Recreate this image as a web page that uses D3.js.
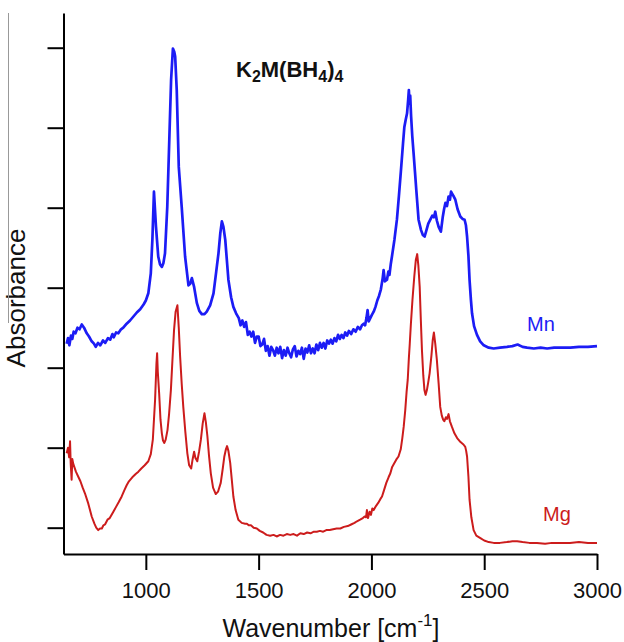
<!DOCTYPE html>
<html>
<head>
<meta charset="utf-8">
<script src="https://cdn.jsdelivr.net/npm/d3@7"></script>
<style>
  html, body { margin: 0; padding: 0; background: #fff; }
  svg { display: block; font-family: "Liberation Sans", Arial, sans-serif; }
</style>
</head>
<body>
<svg id="chart" width="624" height="642"></svg>
<script>
// IR spectra of K2M(BH4)4, M = Mn (upper trace) and Mg (lower trace)

const xTicks = [1000, 1500, 2000, 2500, 3000];
const yTicks = [1, 2, 3, 4, 5, 6, 7];

const mnWavenumber = [
  649, 655, 661, 668, 674, 680, 688, 697, 706, 716, 726, 738, 748, 760, 770, 778, 788, 798, 810, 820,
  832, 842, 852, 858, 868, 878, 890, 900, 915, 930, 945, 960, 975, 990, 1000, 1011, 1022, 1029, 1036, 1045,
  1055, 1063, 1071, 1078, 1085, 1095, 1104, 1112, 1120, 1126, 1130, 1137, 1146, 1159, 1174, 1189, 1197, 1204, 1214, 1226,
  1237, 1248, 1260, 1270, 1285, 1300, 1312, 1322, 1330, 1337, 1344, 1352, 1366, 1378, 1388, 1400,
  1412, 1420, 1428, 1436, 1444, 1452, 1460, 1468, 1476, 1484, 1492, 1500, 1508, 1516, 1524, 1532, 1540, 1548, 1556, 1564,
  1572, 1580, 1588, 1596, 1604, 1612, 1620, 1628, 1636, 1644, 1652, 1660, 1668, 1676, 1684, 1692, 1700, 1708, 1716, 1724,
  1732, 1740, 1748, 1756, 1764, 1772, 1780, 1788, 1796, 1804, 1812, 1820, 1828, 1836, 1844, 1852, 1860, 1868, 1876, 1884,
  1892, 1900, 1910, 1920, 1930, 1940, 1950, 1958, 1966, 1972, 1978, 1983, 1988, 1995, 2002, 2010, 2018, 2026, 2034, 2042,
  2050, 2054, 2060, 2069, 2075, 2080, 2086, 2091, 2102, 2113, 2122, 2131, 2140, 2146, 2152, 2158, 2163, 2166, 2169, 2172,
  2176, 2181, 2187, 2193, 2199, 2209, 2220, 2228, 2236, 2244, 2252, 2261, 2270, 2277, 2283, 2290, 2298, 2308, 2316, 2322,
  2328, 2335, 2342, 2348, 2353, 2357, 2363, 2372, 2382, 2394, 2404, 2413, 2419, 2424, 2430, 2435, 2441, 2446, 2455, 2468,
  2482, 2498, 2520, 2542, 2570, 2601, 2625, 2648, 2670, 2690, 2720, 2750, 2779, 2810, 2840, 2882, 2920, 2960, 3000
];
const mnAbsorbance = [
  3.30, 3.37, 3.28, 3.40, 3.36, 3.45, 3.43, 3.50, 3.48, 3.54, 3.50, 3.43, 3.39, 3.33, 3.30, 3.26, 3.31, 3.28, 3.34, 3.31,
  3.37, 3.35, 3.42, 3.38, 3.44, 3.43, 3.48, 3.50, 3.55, 3.59, 3.64, 3.69, 3.73, 3.79, 3.84, 3.93, 4.18, 4.60, 5.20, 4.76,
  4.39, 4.29, 4.26, 4.31, 4.43, 5.01, 5.85, 6.60, 6.99, 6.95, 6.89, 6.47, 5.51, 5.01, 4.39, 4.03, 4.05, 4.12, 4.01, 3.81,
  3.71, 3.67, 3.67, 3.70, 3.78, 3.93, 4.20, 4.43, 4.68, 4.83, 4.76, 4.60, 4.10, 3.88, 3.76, 3.68,
  3.62, 3.53, 3.59, 3.51, 3.57, 3.41, 3.45, 3.39, 3.45, 3.31, 3.39, 3.39, 3.27, 3.29, 3.36, 3.21, 3.27, 3.15, 3.26, 3.22,
  3.15, 3.25, 3.18, 3.26, 3.12, 3.22, 3.15, 3.25, 3.18, 3.13, 3.23, 3.27, 3.14, 3.21, 3.17, 3.25, 3.11, 3.24, 3.19, 3.28,
  3.18, 3.24, 3.18, 3.29, 3.22, 3.31, 3.25, 3.31, 3.24, 3.34, 3.30, 3.35, 3.30, 3.37, 3.33, 3.41, 3.36, 3.41, 3.37, 3.44,
  3.40, 3.46, 3.42, 3.48, 3.45, 3.51, 3.48, 3.53, 3.55, 3.53, 3.62, 3.72, 3.58, 3.62, 3.66, 3.70, 3.76, 3.84, 3.90, 3.98,
  4.12, 4.22, 4.08, 4.10, 4.20, 4.16, 4.30, 4.39, 4.60, 4.85, 5.15, 5.47, 5.80, 6.01, 6.10, 6.18, 6.35, 6.47, 6.30, 6.40,
  6.14, 5.90, 5.68, 5.45, 5.22, 4.85, 4.72, 4.66, 4.64, 4.72, 4.80, 4.85, 4.90, 4.88, 4.95, 4.84, 4.76, 4.70, 4.88, 4.98,
  5.06, 5.02, 5.14, 5.10, 5.20, 5.18, 5.15, 5.10, 4.98, 4.89, 4.86, 4.85, 4.78, 4.64, 4.40, 4.10, 3.85, 3.68, 3.52, 3.41,
  3.33, 3.28, 3.25, 3.24, 3.25, 3.26, 3.27, 3.29, 3.26, 3.25, 3.24, 3.25, 3.24, 3.25, 3.25, 3.25, 3.26, 3.26, 3.27
];

const mgWavenumber = [
  649, 655, 660, 664, 667, 671, 674, 678, 684, 690, 700, 710, 720, 730, 745, 760, 772, 780, 789, 797,
  805, 812, 819, 830, 840, 856, 868, 880, 893, 905, 915, 925, 940, 955, 967, 980, 995, 1011, 1022, 1031,
  1041, 1047, 1050, 1053, 1059, 1065, 1071, 1076, 1082, 1088, 1096, 1103, 1111, 1118, 1125, 1132, 1140, 1146, 1152, 1159,
  1166, 1175, 1184, 1192, 1201, 1207, 1214, 1220, 1228, 1236, 1244, 1252, 1260, 1266, 1273, 1280, 1288, 1298, 1310, 1320,
  1332, 1341, 1348, 1355, 1360, 1366, 1374, 1381, 1388, 1398, 1410, 1425, 1440, 1448, 1456, 1466, 1478, 1492, 1505, 1520,
  1535, 1551, 1566, 1580, 1595, 1610, 1625, 1640, 1655, 1670, 1685, 1700, 1715, 1730, 1745, 1758, 1772, 1786, 1800, 1815,
  1830, 1846, 1862, 1878, 1895, 1910, 1925, 1936, 1950, 1962, 1970, 1976, 1980, 1985, 1992, 1998, 2004, 2010, 2020, 2030,
  2040, 2047, 2056, 2066, 2076, 2084, 2092, 2100, 2110, 2120, 2130, 2137, 2143, 2150, 2156, 2161, 2166, 2170, 2175, 2182,
  2190, 2197, 2203, 2208, 2214, 2219, 2224, 2230, 2235, 2240, 2246, 2252, 2258, 2266, 2272, 2277, 2283, 2290, 2298, 2305,
  2312, 2318, 2323, 2330, 2335, 2342, 2348, 2357, 2368, 2380, 2395, 2408, 2416, 2420, 2424, 2430, 2435, 2443, 2453, 2465,
  2483, 2500, 2520, 2542, 2570, 2600, 2625, 2646, 2670, 2700, 2734, 2770, 2800, 2838, 2880, 2920, 2960, 3000
];
const mgAbsorbance = [
  1.93, 2.00, 1.88, 2.08, 1.80, 1.60, 1.86, 1.80, 1.75, 1.70, 1.64, 1.58, 1.50, 1.43, 1.30, 1.14, 1.05, 1.00, 0.97, 0.99,
  0.99, 1.03, 1.04, 1.10, 1.12, 1.20, 1.26, 1.32, 1.39, 1.47, 1.53, 1.58, 1.63, 1.67, 1.70, 1.74, 1.78, 1.83, 1.92, 2.10,
  2.60, 3.05, 3.18, 2.95, 2.68, 2.35, 2.18, 2.09, 2.06, 2.10, 2.22, 2.42, 2.72, 3.10, 3.47, 3.70, 3.78, 3.50, 3.14, 2.80,
  2.51, 2.20, 1.93, 1.78, 1.74, 1.85, 1.95, 1.87, 1.83, 1.95, 2.10, 2.30, 2.43, 2.32, 2.14, 1.90, 1.68, 1.50, 1.42, 1.45,
  1.56, 1.74, 1.89, 1.98, 2.02, 1.96, 1.81, 1.60, 1.39, 1.22, 1.10, 1.06, 1.05, 1.05, 1.03, 1.03, 1.00, 0.99, 0.96, 0.94,
  0.91, 0.90, 0.91, 0.89, 0.91, 0.90, 0.92, 0.91, 0.92, 0.90, 0.93, 0.92, 0.94, 0.93, 0.95, 0.95, 0.96, 0.95, 0.97, 0.97,
  0.98, 0.99, 0.99, 1.01, 1.02, 1.04, 1.06, 1.08, 1.10, 1.12, 1.14, 1.13, 1.22, 1.12, 1.20, 1.16, 1.24, 1.22, 1.27, 1.31,
  1.36, 1.39, 1.47, 1.56, 1.63, 1.68, 1.76, 1.80, 1.85, 1.89, 1.98, 2.12, 2.26, 2.47, 2.70, 2.85, 3.12, 3.30, 3.55, 3.85,
  4.14, 4.35, 4.42, 4.28, 4.01, 3.60, 3.22, 2.90, 2.72, 2.66, 2.72, 2.82, 2.93, 3.15, 3.35, 3.44, 3.30, 3.10, 2.80, 2.51,
  2.40, 2.35, 2.33, 2.38, 2.36, 2.42, 2.33, 2.26, 2.18, 2.12, 2.07, 2.04, 2.01, 1.96, 1.89, 1.64, 1.35, 1.13, 0.97, 0.90,
  0.87, 0.84, 0.82, 0.81, 0.81, 0.82, 0.83, 0.83, 0.82, 0.81, 0.81, 0.80, 0.81, 0.81, 0.81, 0.82, 0.81, 0.81
];

const mnColor = "#1c1cf5";
const mgColor = "#cc1c1c";

const svg = d3.select("#chart");

const x = d3.scaleLinear().domain([635, 3000]).range([63.5, 597]);
const y = d3.scaleLinear().domain([0.671, 7.434]).range([554, 13]);

// axes
const xAxis = svg.append("g")
  .attr("transform", `translate(0,${y.range()[0]})`)
  .call(d3.axisBottom(x).tickValues(xTicks).tickSize(16).tickSizeOuter(0).tickPadding(12).tickFormat(d3.format("d")));
const yAxis = svg.append("g")
  .attr("transform", `translate(${x.range()[0]},0)`)
  .call(d3.axisLeft(y).tickValues(yTicks).tickSize(16).tickSizeOuter(0).tickFormat(""));

[xAxis, yAxis].forEach(g => {
  g.select(".domain").attr("stroke", "#000").attr("stroke-width", 2);
  g.selectAll(".tick line").attr("stroke", "#000").attr("stroke-width", 2);
});
xAxis.selectAll(".tick text")
  .attr("fill", "#111")
  .style("font-size", "22px")
  .style("font-family", "'Liberation Sans', Arial, sans-serif");

// spectra
const line = d3.line().x(d => x(d[0])).y(d => y(d[1]));
const mnSeries = d3.zip(mnWavenumber, mnAbsorbance);
const mgSeries = d3.zip(mgWavenumber, mgAbsorbance);

svg.append("path").datum(mgSeries)
  .attr("d", line).attr("fill", "none")
  .attr("stroke", mgColor).attr("stroke-width", 2).attr("stroke-linejoin", "round");
svg.append("path").datum(mnSeries)
  .attr("d", line).attr("fill", "none")
  .attr("stroke", mnColor).attr("stroke-width", 2.7).attr("stroke-linejoin", "round");

// series labels
svg.append("text").attr("x", 527).attr("y", 331)
  .attr("fill", mnColor).style("font-size", "20px").text("Mn");
svg.append("text").attr("x", 543).attr("y", 521)
  .attr("fill", mgColor).style("font-size", "20px").text("Mg");

// formula heading
const title = svg.append("text").attr("x", 236).attr("y", 77)
  .style("font-size", "22px").style("font-weight", "bold").attr("fill", "#111");
title.append("tspan").text("K");
title.append("tspan").attr("dy", 5).style("font-size", "16px").text("2");
title.append("tspan").attr("dy", -5).text("M(BH");
title.append("tspan").attr("dy", 5).style("font-size", "16px").text("4");
title.append("tspan").attr("dy", -5).text(")");
title.append("tspan").attr("dy", 5).style("font-size", "16px").text("4");

// axis titles
const xTitle = svg.append("text").attr("x", 331).attr("y", 637)
  .attr("text-anchor", "middle").style("font-size", "25px").attr("fill", "#111");
xTitle.append("tspan").text("Wavenumber [cm");
xTitle.append("tspan").attr("dy", -11).style("font-size", "17px").text("-1");
xTitle.append("tspan").attr("dy", 11).text("]");

svg.append("text")
  .attr("transform", "translate(25,298) rotate(-90)")
  .attr("text-anchor", "middle").style("font-size", "26px").attr("fill", "#111")
  .text("Absorbance");

// thin rule beside the y title
svg.append("line")
  .attr("x1", 8.5).attr("x2", 8.5).attr("y1", 13).attr("y2", 323)
  .attr("stroke", "#999").attr("stroke-width", 1);
</script>
</body>
</html>
